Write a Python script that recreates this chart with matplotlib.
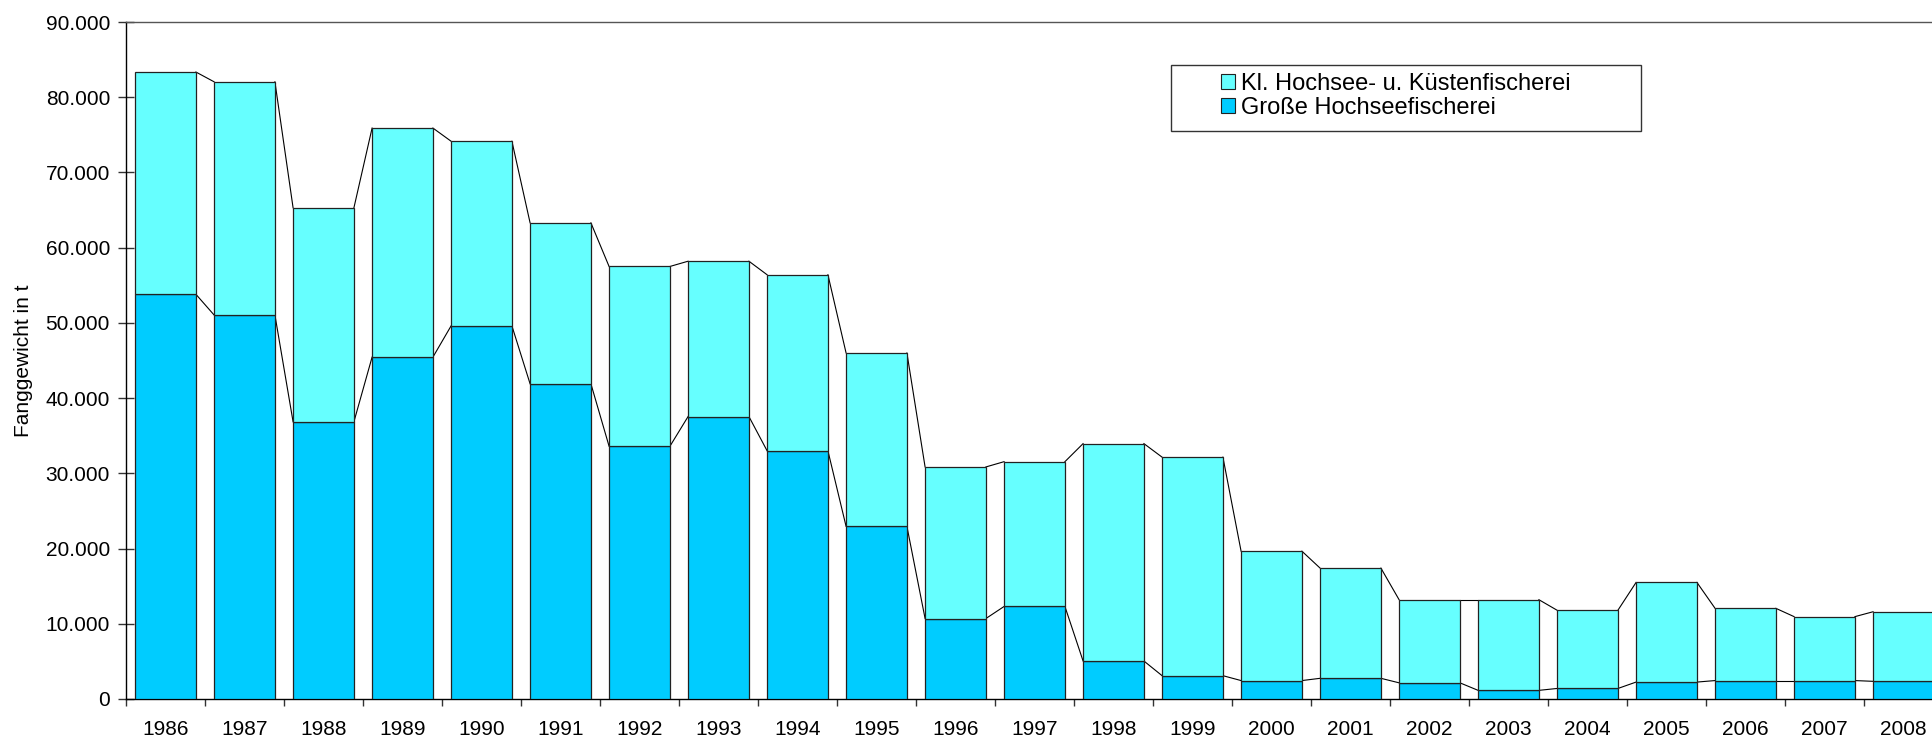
import numpy as np
import matplotlib
matplotlib.use("Agg")
import matplotlib.pyplot as plt
from matplotlib.patches import Rectangle
from matplotlib.ticker import FuncFormatter, MultipleLocator, FixedLocator

plt.rcParams['font.family'] = ['Liberation Sans', 'DejaVu Sans']

years = ['1986', '1987', '1988', '1989', '1990', '1991', '1992', '1993', '1994', '1995',
         '1996', '1997', '1998', '1999', '2000', '2001', '2002', '2003', '2004', '2005',
         '2006', '2007', '2008']
# Große Hochseefischerei (lower part), t
grosse = [53800, 51050, 36850, 45450, 49600, 41900, 33600, 37550, 33000, 22950,
          10700, 12300, 5050, 3100, 2450, 2750, 2150, 1150, 1400, 2250,
          2450, 2450, 2350]
# Gesamt (top of stack), t
gesamt = [83350, 82050, 65300, 75900, 74150, 63300, 57500, 58200, 56400, 46000,
          30850, 31550, 33950, 32150, 19650, 17400, 13200, 13200, 11800, 15500,
          12050, 10950, 11600]
klein = [g - s for g, s in zip(gesamt, grosse)]

c_klein = '#66FFFF'
c_grosse = '#00CCFF'

W, H = 1933, 740
fig = plt.figure(figsize=(W / 100, H / 100), dpi=100)
ax = fig.add_axes([126 / W, 1 - 699 / H, 1817 / W, 677 / H])

x = np.arange(len(years))
w = 0.77
ax.bar(x, grosse, w, color=c_grosse, edgecolor='#222222', linewidth=0.9,
       label='Große Hochseefischerei', zorder=3)
ax.bar(x, klein, w, bottom=grosse, color=c_klein, edgecolor='#222222', linewidth=0.9,
       label='Kl. Hochsee- u. Küstenfischerei', zorder=3)

# series lines between neighbouring bars
for i in range(len(years) - 1):
    for s in (grosse, gesamt):
        ax.plot([x[i] + w / 2, x[i + 1] - w / 2], [s[i], s[i + 1]],
                color='black', linewidth=0.8, zorder=2)

ax.set_xlim(-0.5, len(years) - 0.5)
ax.set_ylim(0, 90000)
ax.yaxis.set_major_locator(MultipleLocator(10000))
ax.yaxis.set_major_formatter(FuncFormatter(lambda v, p: f'{int(v):,}'.replace(',', '.')))

ax.set_xticks(x)
ax.set_xticklabels(years)
ax.xaxis.set_minor_locator(FixedLocator(np.arange(-0.5, len(years), 1.0)))
ax.tick_params(axis='x', which='major', length=0, pad=15, labelsize=15)
ax.tick_params(axis='x', which='minor', length=5, width=1, direction='out', color='#333333')
ax.tick_params(axis='y', length=11, width=1, direction='inout', pad=6, labelsize=15,
               color='#333333')

for side in ('left', 'bottom', 'top'):
    ax.spines[side].set_linewidth(1.0)
ax.spines['top'].set_color('#555555')
ax.spines['right'].set_visible(False)

ax.set_ylabel('Fanggewicht in t', fontsize=15, labelpad=9)

# legend: frame drawn separately to get the wide padding of the original
fig.patches.append(Rectangle((1171 / W, 1 - 131 / H), 470 / W, 66 / H,
                             transform=fig.transFigure, facecolor='white',
                             edgecolor='#333333', linewidth=1.0, zorder=5))
handles, labels = ax.get_legend_handles_labels()
leg = fig.legend(handles[::-1], labels[::-1], loc='center left',
                 bbox_to_anchor=(1221 / W, 1 - 96 / H), bbox_transform=fig.transFigure,
                 borderaxespad=0, borderpad=0, fontsize=17, frameon=False,
                 handlelength=0.6, handleheight=0.6, handletextpad=0.25,
                 labelspacing=0.08)
leg.set_zorder(6)
for h in leg.legend_handles:
    h.set_edgecolor('#222222')
    h.set_linewidth(0.8)

fig.savefig('out.png', dpi=100)
